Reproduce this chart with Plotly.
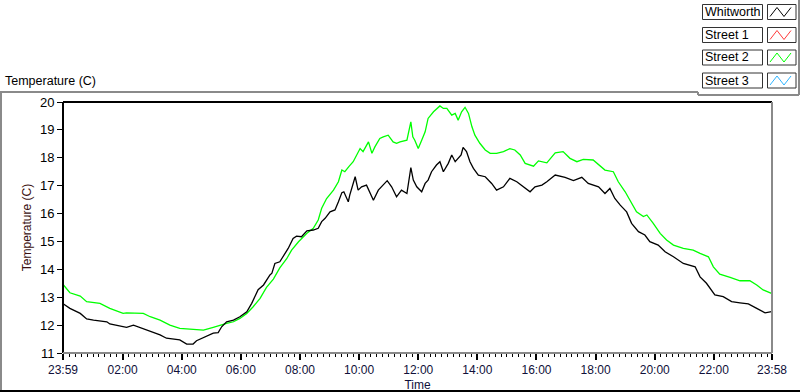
import plotly.graph_objects as go

# ---------------- data ----------------
# time given as minutes after the first sample (23:59 of previous day)
whitworth_min = [1, 14, 35, 48, 62, 89, 95, 116, 129, 143, 156, 170, 183, 197, 210, 237, 251, 264, 271, 285,
                 305, 315, 322, 332, 346, 359, 373, 383, 396, 407, 420, 424, 430, 440, 447, 457, 467, 474, 484, 495,
                 508, 518, 525, 532, 542, 552, 559, 566, 570, 579, 582, 593, 599, 606, 616, 623, 630, 640, 650, 658,
                 667, 677, 687, 698, 706, 711, 718, 728, 735, 741, 748, 758, 765, 772, 782, 789, 796, 802, 808, 812,
                 819, 826, 833, 843, 857, 870, 880, 894, 907, 921, 934, 948, 958, 972, 982, 999, 1019, 1036, 1053, 1066,
                 1087, 1100, 1110, 1120, 1131, 1144, 1154, 1168, 1181, 1191, 1208, 1222, 1239, 1259, 1283, 1293, 1306,
                 1323, 1340, 1357, 1374, 1391, 1408, 1425, 1438]
whitworth_temp = [12.76, 12.60, 12.42, 12.22, 12.18, 12.12, 12.04, 11.97, 11.92, 12.00, 11.92, 11.82, 11.76, 11.65,
                  11.53, 11.47, 11.32, 11.32, 11.44, 11.56, 11.71, 11.73, 11.94, 12.12, 12.18, 12.30, 12.48, 12.78,
                  13.27, 13.44, 13.80, 13.86, 14.21, 14.27, 14.45, 14.75, 15.11, 15.19, 15.17, 15.38, 15.41, 15.47,
                  15.71, 15.83, 16.06, 16.13, 16.42, 16.75, 16.78, 16.42, 16.66, 17.32, 16.84, 16.96, 17.02, 16.72,
                  16.48, 16.84, 17.02, 17.18, 16.96, 16.60, 16.84, 16.72, 17.65, 17.20, 16.96, 16.78, 17.08, 17.20,
                  17.50, 17.74, 17.86, 17.50, 17.80, 18.10, 17.86, 17.98, 18.10, 18.37, 18.22, 17.86, 17.62, 17.38,
                  17.32, 17.08, 16.84, 16.96, 17.26, 17.14, 16.96, 16.78, 16.96, 17.02, 17.14, 17.38, 17.30, 17.18,
                  17.30, 17.08, 16.96, 16.72, 16.90, 16.54, 16.30, 16.06, 15.65, 15.35, 15.23, 14.99, 14.87, 14.63,
                  14.45, 14.21, 14.09, 13.73, 13.50, 13.08, 13.02, 12.84, 12.80, 12.76, 12.60, 12.44, 12.48]

street2_min = [1, 14, 35, 48, 75, 95, 122, 129, 163, 177, 197, 217, 237, 258, 285, 305, 319, 332, 346, 359, 373,
               386, 400, 413, 427, 440, 454, 464, 478, 495, 508, 518, 525, 535, 549, 559, 566, 572, 581, 589, 603,
               609, 620, 627, 633, 643, 650, 660, 670, 677, 684, 698, 706, 710, 714, 721, 728, 735, 741, 752, 765,
               772, 779, 789, 796, 802, 809, 816, 823, 830, 836, 846, 857, 867, 880, 894, 907, 917, 928, 938, 955,
               965, 982, 999, 1015, 1029, 1043, 1056, 1076, 1087, 1100, 1117, 1127, 1141, 1151, 1164, 1178, 1185,
               1198, 1212, 1225, 1239, 1259, 1279, 1293, 1310, 1320, 1333, 1354, 1374, 1394, 1408, 1421, 1438]
street2_temp = [13.44, 13.16, 13.04, 12.84, 12.78, 12.60, 12.42, 12.44, 12.42, 12.30, 12.18, 12.00, 11.88, 11.85,
                11.82, 11.92, 12.00, 12.06, 12.12, 12.24, 12.42, 12.66, 12.96, 13.35, 13.65, 14.05, 14.38, 14.69,
                14.99, 15.29, 15.47, 15.77, 16.19, 16.54, 16.84, 17.14, 17.56, 17.50, 17.70, 17.86, 18.33, 18.22,
                18.57, 18.16, 18.39, 18.69, 18.75, 18.81, 18.57, 18.52, 18.57, 18.63, 19.29, 18.75, 18.63, 18.33,
                18.63, 18.93, 19.41, 19.65, 19.86, 19.77, 19.77, 19.53, 19.59, 19.35, 19.65, 19.81, 19.59, 19.11,
                18.81, 18.52, 18.28, 18.16, 18.16, 18.22, 18.33, 18.28, 18.10, 17.80, 17.70, 17.89, 17.82, 18.18,
                18.22, 17.98, 17.86, 17.94, 17.92, 17.74, 17.56, 17.50, 17.14, 16.78, 16.48, 16.06, 15.89, 15.95,
                15.65, 15.29, 15.05, 14.87, 14.75, 14.69, 14.57, 14.45, 14.09, 13.83, 13.71, 13.59, 13.59, 13.44,
                13.26, 13.14]

street1_min, street1_temp = [], []
street3_min, street3_temp = [], []

series_names = ["Whitworth", "Street 1", "Street 2", "Street 3"]
series_colors = ["#000000", "#ff3b3b", "#00ff00", "#2eb4ff"]

time_tick_labels = ["23:59", "02:00", "04:00", "06:00", "08:00", "10:00", "12:00",
                    "14:00", "16:00", "18:00", "20:00", "22:00", "23:58"]
y_ticks = [11, 12, 13, 14, 15, 16, 17, 18, 19, 20]


def to_offset(label):
    h, m = map(int, label.split(":"))
    return (h * 60 + m + 1) % 1440 if label != "23:58" else 1439


tick_vals = [to_offset(t) for t in time_tick_labels]

# ---------------- layout geometry (pixels) ----------------
W, H = 800, 392
L, R, T, B = 63, 772, 102, 353


def px(x):
    return (x - L) / (R - L)


def py(y):
    return (B - y) / (B - T)


FONT = "Liberation Sans"

fig = go.Figure()
xs = [whitworth_min, street1_min, street2_min, street3_min]
ys = [whitworth_temp, street1_temp, street2_temp, street3_temp]
# draw order: Street 2 below Whitworth
for i in [1, 2, 3, 0]:
    fig.add_trace(go.Scatter(x=xs[i], y=ys[i], mode="lines", name=series_names[i],
                             line=dict(color=series_colors[i], width=1.3), showlegend=False))

shapes = []
# plot frame: black top/left, grey right/bottom
shapes.append(dict(type="line", xref="paper", yref="paper", x0=0, x1=1, y0=1, y1=1,
                   line=dict(color="#000000", width=2)))
shapes.append(dict(type="line", xref="paper", yref="paper", x0=0, x1=0, y0=0, y1=1,
                   line=dict(color="#000000", width=2)))
shapes.append(dict(type="line", xref="paper", yref="paper", x0=1, x1=1, y0=0, y1=1,
                   line=dict(color="#8a8a8a", width=2)))
shapes.append(dict(type="line", xref="paper", yref="paper", x0=0, x1=1, y0=0, y1=0,
                   line=dict(color="#8a8a8a", width=2)))
# outer frame
shapes.append(dict(type="line", xref="paper", yref="paper", x0=px(0), x1=px(698), y0=py(92), y1=py(92),
                   line=dict(color="#8a8a8a", width=2)))
shapes.append(dict(type="line", xref="paper", yref="paper", x0=px(1), x1=px(1), y0=py(92), y1=py(391),
                   line=dict(color="#8a8a8a", width=2)))
shapes.append(dict(type="line", xref="paper", yref="paper", x0=px(0), x1=px(800), y0=py(391), y1=py(391),
                   line=dict(color="#000000", width=2)))
# legend frame
shapes.append(dict(type="line", xref="paper", yref="paper", x0=px(698), x1=px(698), y0=py(92), y1=py(95),
                   line=dict(color="#8a8a8a", width=2)))
shapes.append(dict(type="line", xref="paper", yref="paper", x0=px(698), x1=px(799), y0=py(95), y1=py(95),
                   line=dict(color="#8a8a8a", width=2)))
shapes.append(dict(type="line", xref="paper", yref="paper", x0=px(799), x1=px(799), y0=py(0), y1=py(95),
                   line=dict(color="#8a8a8a", width=2)))

annotations = []
row_tops = [4.5, 27.5, 50, 73]
for name, color, top in zip(series_names, series_colors, row_tops):
    bot = top + 15
    shapes.append(dict(type="rect", xref="paper", yref="paper", x0=px(702.5), x1=px(762.5),
                       y0=py(bot), y1=py(top), line=dict(color="#333333", width=1), fillcolor="white"))
    shapes.append(dict(type="rect", xref="paper", yref="paper", x0=px(767.5), x1=px(796),
                       y0=py(bot), y1=py(top), line=dict(color="#333333", width=1), fillcolor="white"))
    zx = [770, 777, 784, 791]
    zy = [bot - 3, top + 3, bot - 3, top + 3]
    path = "M {} {} ".format(px(zx[0]), py(zy[0])) + " ".join(
        "L {} {}".format(px(a), py(b)) for a, b in zip(zx[1:], zy[1:]))
    shapes.append(dict(type="path", xref="paper", yref="paper", path=path,
                       line=dict(color=color, width=1)))
    annotations.append(dict(text=name, xref="paper", yref="paper", x=px(703), y=py(top + 7.5),
                            xanchor="left", yanchor="middle", showarrow=False,
                            font=dict(family=FONT, size=12.5, color="#000000")))

annotations.append(dict(text="Temperature (C)", xref="paper", yref="paper", x=px(3), y=py(81),
                        xanchor="left", yanchor="middle", showarrow=False,
                        font=dict(family=FONT, size=12.5, color="#000000")))

fig.update_layout(
    width=W, height=H,
    margin=dict(l=L, r=W - R, t=T, b=H - B, pad=0, autoexpand=False),
    paper_bgcolor="white", plot_bgcolor="white",
    font=dict(family=FONT, size=12, color="#000000"),
    shapes=shapes, annotations=annotations,
    showlegend=False,
)
fig.update_xaxes(
    range=[0, 1439], tickmode="array", tickvals=tick_vals, ticktext=time_tick_labels,
    ticks="outside", ticklen=6, tickwidth=2, tickcolor="#000000",
    minor=dict(tick0=1, dtick=12, ticks="outside", ticklen=3, tickwidth=1, tickcolor="#000000",
               showgrid=False),
    showgrid=False, zeroline=False, showline=False,
    tickfont=dict(family=FONT, size=12, color="#10103a"),
    title=dict(text="Time", font=dict(family=FONT, size=12, color="#10103a"), standoff=4),
)
fig.update_yaxes(
    range=[11, 20], tickmode="array", tickvals=y_ticks,
    ticks="outside", ticklen=5, tickwidth=1, tickcolor="#000000",
    showgrid=False, zeroline=False, showline=False,
    tickfont=dict(family=FONT, size=13, color="#000000"),
    title=dict(text="Temperature (C)", font=dict(family=FONT, size=12, color="#3a1010"), standoff=5),
)

fig.write_html("out.html", config={"displayModeBar": False},
               post_script="document.body.style.margin='0';document.body.style.padding='0';")
